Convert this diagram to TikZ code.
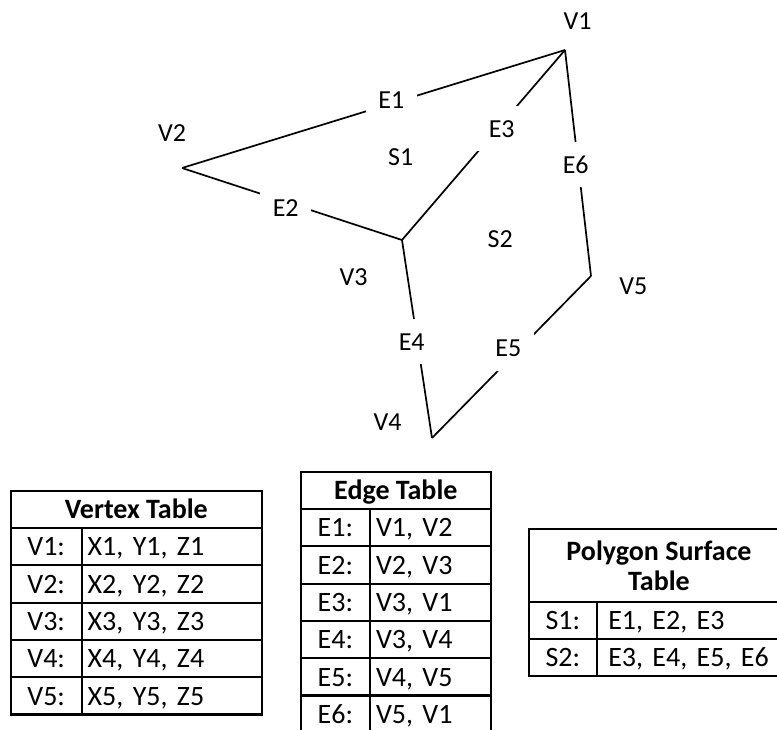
\documentclass[tikz,border=0pt]{standalone}
\usepackage{fontspec}
\setmainfont{Carlito}
\usetikzlibrary{positioning}

\begin{document}
\begin{tikzpicture}[x=0.5pt, y=-0.5pt, font=\fontsize{13}{15.6}\selectfont,
    edge/.style={line width=0.85pt},
    elabel/.style={fill=white, minimum width=25.5pt, minimum height=22.5pt, inner sep=0pt},
    cell/.style={draw, line width=1.1pt, outer sep=0pt, inner sep=0pt, minimum height=18.65pt,
        font=\fontsize{14}{14.85}\selectfont},
    oneline/.style={text height=10.75pt, text depth=1.5pt},
    keycell/.style={cell, oneline, text width=#1, align=center},
    valcell/.style={cell, oneline, text width=#1, align=left, inner xsep=3pt},
    headcell/.style={cell, font=\fontsize{14}{14.85}\selectfont\bfseries, align=center}]
        \useasboundingbox (0,0) rectangle (777,729);

        % vertices
        \coordinate (v1) at (565,50);
        \coordinate (v2) at (182,168);
        \coordinate (v3) at (402,240);
        \coordinate (v4) at (432,438);
        \coordinate (v5) at (591,276);

        \draw[edge] (v2) -- (v1);
        \draw[edge] (v2) -- (v3);
        \draw[edge] (v3) -- (v1);
        \draw[edge] (v3) -- (v4);
        \draw[edge] (v4) -- (v5);
        \draw[edge] (v5) -- (v1);

        \node (e1) [elabel] at (391.3,99.7) {E1};
        \node (e2) [elabel] at (285.7,208.3) {E2};
        \node (e3) [elabel] at (501.7,128.7) {E3};
        \node (e4) [elabel] at (411.7,341.7) {E4};
        \node (e5) [elabel] at (508.3,348) {E5};
        \node (e6) [elabel] at (575.7,164.7) {E6};

        \node (lv1) at (577.5,20.8) {V1};
        \node (lv2) at (172.2,132.7) {V2};
        \node (lv3) at (353.7,277.3) {V3};
        \node (lv4) at (387.7,422) {V4};
        \node (lv5) at (633.3,286.7) {V5};
        \node (s1) at (400.7,156.7) {S1};
        \node (s2) at (500.3,239) {S2};

        % vertex table
        \node (vhead) [headcell, oneline, minimum width=125.65pt, anchor=north west] at (10.7,490.7) {Vertex Table};
        \node (vk1) [keycell=35.5pt, below right=0pt of vhead.south west] {V1:};
        \node (vv1) [valcell=84.15pt, right=0pt of vk1] {X1, Y1, Z1};
        \node (vk2) [keycell=35.5pt, below=0pt of vk1] {V2:};
        \node (vv2) [valcell=84.15pt, right=0pt of vk2] {X2, Y2, Z2};
        \node (vk3) [keycell=35.5pt, below=0pt of vk2] {V3:};
        \node (vv3) [valcell=84.15pt, right=0pt of vk3] {X3, Y3, Z3};
        \node (vk4) [keycell=35.5pt, below=0pt of vk3] {V4:};
        \node (vv4) [valcell=84.15pt, right=0pt of vk4] {X4, Y4, Z4};
        \node (vk5) [keycell=35.5pt, below=0pt of vk4] {V5:};
        \node (vv5) [valcell=84.15pt, right=0pt of vk5] {X5, Y5, Z5};

        % edge table
        \node (ehead) [headcell, oneline, minimum width=95.15pt, anchor=north west] at (300.7,471.7) {Edge Table};
        \node (ek1) [keycell=34.65pt, below right=0pt of ehead.south west] {E1:};
        \node (ev1) [valcell=54.5pt, right=0pt of ek1] {V1, V2};
        \node (ek2) [keycell=34.65pt, below=0pt of ek1] {E2:};
        \node (ev2) [valcell=54.5pt, right=0pt of ek2] {V2, V3};
        \node (ek3) [keycell=34.65pt, below=0pt of ek2] {E3:};
        \node (ev3) [valcell=54.5pt, right=0pt of ek3] {V3, V1};
        \node (ek4) [keycell=34.65pt, below=0pt of ek3] {E4:};
        \node (ev4) [valcell=54.5pt, right=0pt of ek4] {V3, V4};
        \node (ek5) [keycell=34.65pt, below=0pt of ek4] {E5:};
        \node (ev5) [valcell=54.5pt, right=0pt of ek5] {V4, V5};
        \node (ek6) [keycell=34.65pt, below=0pt of ek5] {E6:};
        \node (ev6) [valcell=54.5pt, right=0pt of ek6] {V5, V1};

        % polygon surface table
        \node (shead) [headcell, minimum width=130pt, minimum height=36.2pt, anchor=north west] at (529,529.3) {Polygon Surface\\Table};
        \node (sk1) [keycell=33.85pt, minimum height=18.5pt, below right=0pt of shead.south west] {S1:};
        \node (sv1) [valcell=84.55pt, inner xsep=5.8pt, minimum height=18.5pt, right=0pt of sk1] {E1, E2, E3};
        \node (sk2) [keycell=33.85pt, minimum height=18.5pt, below=0pt of sk1] {S2:};
        \node (sv2) [valcell=84.55pt, inner xsep=5.8pt, minimum height=18.5pt, right=0pt of sk2] {E3, E4, E5, E6};
    \end{tikzpicture}
\end{document}
